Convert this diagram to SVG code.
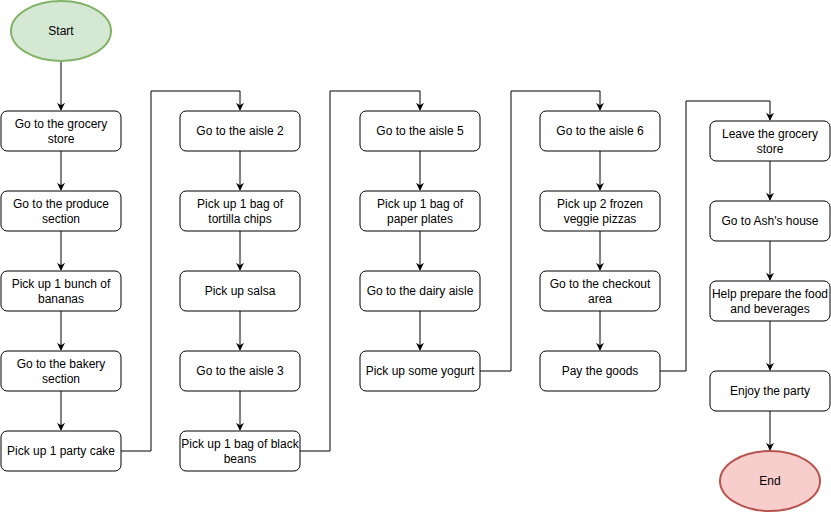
<svg xmlns="http://www.w3.org/2000/svg" width="831" height="512" viewBox="0 0 831 512">
<defs>
<marker id="arr" viewBox="0 0 10 10" refX="9" refY="5" markerWidth="8" markerHeight="8" markerUnits="userSpaceOnUse" orient="auto">
<path d="M0,0 L10,5 L0,10 L3,5 Z" fill="#000"/>
</marker>
</defs>
<style>
.b{fill:#fff;stroke:#000;stroke-width:1}
.t{font-family:"Liberation Sans",Arial,sans-serif;font-size:12px;fill:#000;text-anchor:middle;dominant-baseline:central}
.c{fill:none;stroke:#000;stroke-width:1;marker-end:url(#arr)}
</style>
<rect width="831" height="512" fill="#fff"/>
<g id="connectors">
<path class="c" d="M61,61 V110"/>
<path class="c" d="M61,151 V190"/>
<path class="c" d="M61,231 V270"/>
<path class="c" d="M61,311 V350"/>
<path class="c" d="M61,391 V430"/>
<path class="c" d="M121,451 H151 V91 H240 V110"/>
<path class="c" d="M240,151 V190"/>
<path class="c" d="M240,231 V270"/>
<path class="c" d="M240,311 V350"/>
<path class="c" d="M240,391 V430"/>
<path class="c" d="M300,451 H330 V91 H420 V110"/>
<path class="c" d="M420,151 V190"/>
<path class="c" d="M420,231 V270"/>
<path class="c" d="M420,311 V350"/>
<path class="c" d="M480,371 H511 V91 H600 V110"/>
<path class="c" d="M600,151 V190"/>
<path class="c" d="M600,231 V270"/>
<path class="c" d="M600,311 V350"/>
<path class="c" d="M660,371 H686 V101 H770 V120"/>
<path class="c" d="M770,161 V200"/>
<path class="c" d="M770,241 V280"/>
<path class="c" d="M770,321 V370"/>
<path class="c" d="M770,411 V450"/>
</g>
<g id="start"><ellipse cx="61" cy="31" rx="50" ry="30" fill="#d5e8d4" stroke="#82b366" stroke-width="2"/><text class="t" x="61" y="31">Start</text></g>
<g id="n1"><rect class="b" x="1" y="111" width="120" height="40" rx="6"/><text class="t" x="61" y="124">Go to the grocery</text><text class="t" x="61" y="139">store</text></g>
<g id="n2"><rect class="b" x="1" y="191" width="120" height="40" rx="6"/><text class="t" x="61" y="204">Go to the produce</text><text class="t" x="61" y="219">section</text></g>
<g id="n3"><rect class="b" x="1" y="271" width="120" height="40" rx="6"/><text class="t" x="61" y="284">Pick up 1 bunch of</text><text class="t" x="61" y="299">bananas</text></g>
<g id="n4"><rect class="b" x="1" y="351" width="120" height="40" rx="6"/><text class="t" x="61" y="364">Go to the bakery</text><text class="t" x="61" y="379">section</text></g>
<g id="n5"><rect class="b" x="1" y="431" width="120" height="40" rx="6"/><text class="t" x="61" y="451">Pick up 1 party cake</text></g>
<g id="n6"><rect class="b" x="180" y="111" width="120" height="40" rx="6"/><text class="t" x="240" y="131">Go to the aisle 2</text></g>
<g id="n7"><rect class="b" x="180" y="191" width="120" height="40" rx="6"/><text class="t" x="240" y="204">Pick up 1 bag of</text><text class="t" x="240" y="219">tortilla chips</text></g>
<g id="n8"><rect class="b" x="180" y="271" width="120" height="40" rx="6"/><text class="t" x="240" y="291">Pick up salsa</text></g>
<g id="n9"><rect class="b" x="180" y="351" width="120" height="40" rx="6"/><text class="t" x="240" y="371">Go to the aisle 3</text></g>
<g id="n10"><rect class="b" x="180" y="431" width="120" height="40" rx="6"/><text class="t" x="240" y="444">Pick up 1 bag of black</text><text class="t" x="240" y="459">beans</text></g>
<g id="n11"><rect class="b" x="360" y="111" width="120" height="40" rx="6"/><text class="t" x="420" y="131">Go to the aisle 5</text></g>
<g id="n12"><rect class="b" x="360" y="191" width="120" height="40" rx="6"/><text class="t" x="420" y="204">Pick up 1 bag of</text><text class="t" x="420" y="219">paper plates</text></g>
<g id="n13"><rect class="b" x="360" y="271" width="120" height="40" rx="6"/><text class="t" x="420" y="291">Go to the dairy aisle</text></g>
<g id="n14"><rect class="b" x="360" y="351" width="120" height="40" rx="6"/><text class="t" x="420" y="371">Pick up some yogurt</text></g>
<g id="n15"><rect class="b" x="540" y="111" width="120" height="40" rx="6"/><text class="t" x="600" y="131">Go to the aisle 6</text></g>
<g id="n16"><rect class="b" x="540" y="191" width="120" height="40" rx="6"/><text class="t" x="600" y="204">Pick up 2 frozen</text><text class="t" x="600" y="219">veggie pizzas</text></g>
<g id="n17"><rect class="b" x="540" y="271" width="120" height="40" rx="6"/><text class="t" x="600" y="284">Go to the checkout</text><text class="t" x="600" y="299">area</text></g>
<g id="n18"><rect class="b" x="540" y="351" width="120" height="40" rx="6"/><text class="t" x="600" y="371">Pay the goods</text></g>
<g id="n19"><rect class="b" x="710" y="121" width="120" height="40" rx="6"/><text class="t" x="770" y="134">Leave the grocery</text><text class="t" x="770" y="149">store</text></g>
<g id="n20"><rect class="b" x="710" y="201" width="120" height="40" rx="6"/><text class="t" x="770" y="221">Go to Ash's house</text></g>
<g id="n21"><rect class="b" x="710" y="281" width="120" height="40" rx="6"/><text class="t" x="770" y="294">Help prepare the food</text><text class="t" x="770" y="309">and beverages</text></g>
<g id="n22"><rect class="b" x="710" y="371" width="120" height="40" rx="6"/><text class="t" x="770" y="391">Enjoy the party</text></g>
<g id="end"><ellipse cx="770" cy="481" rx="50" ry="30" fill="#f8cecc" stroke="#b85450" stroke-width="2"/><text class="t" x="770" y="481">End</text></g>
</svg>
